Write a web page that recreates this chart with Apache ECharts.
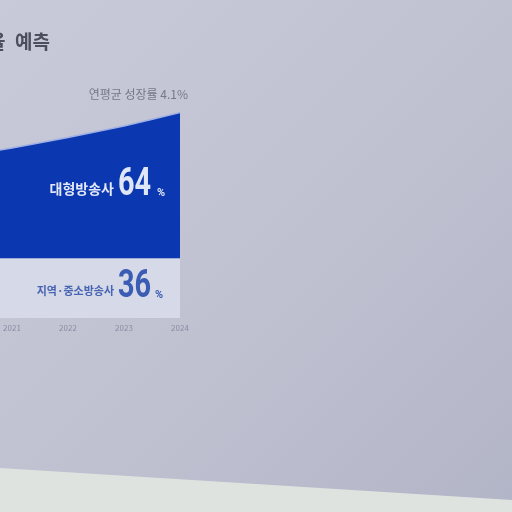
<!DOCTYPE html>
<html>
<head>
<meta charset="utf-8">
<script src="https://cdn.jsdelivr.net/npm/echarts@6/dist/echarts.min.js"></script>
<style>
html,body{margin:0;padding:0;background:#c3c5d3;}
#c{width:512px;height:512px;filter:blur(0.7px);}
</style>
</head>
<body>
<div id="c"></div>
<script>
// data
const years = ['2020', '2021', '2022', '2023', '2024'];
const smallShare = [28.5, 28.5, 28.5, 28.5, 28.5];
const largeShare = [47.7, 52.5, 57.5, 62.9, 69.3];
const largeLabel = '대형방송사';
const smallLabel = '지역·중소방송사';
const largePct = '64';
const smallPct = '36';
const titleText = '점유율\u2002예측';
const noteText = '연평균 성장률 4.1%';

const chart = echarts.init(document.getElementById('c'));
const numFont = '"Roboto", "Liberation Sans", sans-serif';
const krFont = '"Noto Sans CJK KR", sans-serif';

chart.setOption({
  backgroundColor: {
    type: 'linear', x: 0, y: 0, x2: 1, y2: 1,
    colorStops: [
      {offset: 0, color: '#c9cad9'},
      {offset: 0.6, color: '#bec0d0'},
      {offset: 1, color: '#b2b5c7'}
    ]
  },
  animation: false,
  grid: {left: -44, right: 332, top: 108, bottom: 194, containLabel: false, outerBoundsMode: 'none'},
  xAxis: {
    type: 'category',
    data: years,
    boundaryGap: false,
    axisLine: {show: false},
    axisTick: {show: false},
    axisLabel: {color: '#8a8da2', fontSize: 8, margin: 6, fontFamily: krFont},
    splitLine: {show: false}
  },
  yAxis: {
    type: 'value', min: 0, max: 100, show: true,
    axisLine: {show: false}, axisTick: {show: false}, axisLabel: {show: false},
    splitLine: {show: false}
  },
  series: [
    {
      name: smallLabel, type: 'line', stack: 'share', data: smallShare,
      symbol: 'none', lineStyle: {width: 0},
      areaStyle: {color: '#d5d9e8', opacity: 1}
    },
    {
      name: largeLabel, type: 'line', stack: 'share', data: largeShare,
      symbol: 'none', smooth: 0.15,
      lineStyle: {width: 1.5, color: '#9fb0e6'},
      areaStyle: {color: '#0b38b0', opacity: 1}
    }
  ],
  graphic: [
    {type: 'polygon', shape: {points: [[0, 468], [512, 500], [512, 512], [0, 512]]},
      style: {fill: '#dfe3df'}, z: 10},
    {type: 'text', x: 50, y: 42, z: 10,
      style: {text: titleText, font: 'bold 19px ' + krFont, fill: '#4c4e5c', textAlign: 'right', textVerticalAlign: 'middle'}},
    {type: 'text', x: 188, y: 94, z: 10,
      style: {text: noteText, font: '12px ' + krFont, fill: '#767889', textAlign: 'right', textVerticalAlign: 'middle'}},
    {type: 'text', x: 114, y: 189, z: 10,
      style: {text: largeLabel, font: 'bold 14px ' + krFont, fill: '#e2e8f8', textAlign: 'right', textVerticalAlign: 'middle'}},
    {type: 'text', x: 118, y: 185, z: 10, scaleX: 0.76,
      style: {text: largePct, font: 'bold 38px ' + numFont, fill: '#dfe6f7', textAlign: 'left', textVerticalAlign: 'middle'}},
    {type: 'text', x: 157, y: 193, z: 10,
      style: {text: '%', font: 'bold 11px ' + numFont, fill: '#dfe6f7', textAlign: 'left', textVerticalAlign: 'middle'}},
    {type: 'text', x: 114, y: 291, z: 10,
      style: {text: smallLabel, font: 'bold 11px ' + krFont, fill: '#4865b2', textAlign: 'right', textVerticalAlign: 'middle'}},
    {type: 'text', x: 118, y: 287, z: 10, scaleX: 0.76,
      style: {text: smallPct, font: 'bold 38px ' + numFont, fill: '#3b5cb3', textAlign: 'left', textVerticalAlign: 'middle'}},
    {type: 'text', x: 155, y: 295, z: 10,
      style: {text: '%', font: 'bold 11px ' + numFont, fill: '#3b5cb3', textAlign: 'left', textVerticalAlign: 'middle'}}
  ]
});
</script>
</body>
</html>
